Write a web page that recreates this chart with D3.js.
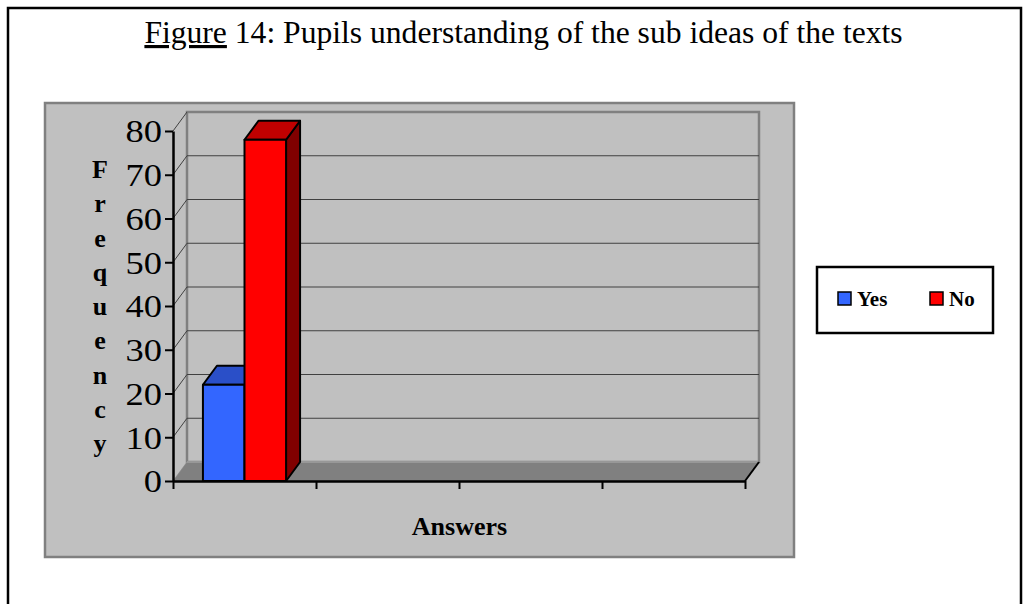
<!DOCTYPE html>
<html>
<head>
<meta charset="utf-8">
<script src="https://cdn.jsdelivr.net/npm/d3@7"></script>
<style>
  html, body { margin: 0; padding: 0; background: #fff; }
  svg { display: block; }
</style>
</head>
<body>
<svg id="chart" width="1029" height="604"></svg>
<script>
// ---- data ----
const titleLead = "Figure";
const titleRest = " 14: Pupils understanding of the sub ideas of the texts";
const categories = ["Answers"];          // single answered category (first slot)
const axisSlots = [0, 1, 2, 3];         // four category slots on the x axis
const seriesNames = ["Yes", "No"];
const yesValues = [22];
const noValues = [78];
const yTicks = [0, 10, 20, 30, 40, 50, 60, 70, 80];
const yTitle = "Frequency";
const xTitle = "Answers";
const seriesColors = {
  Yes: { front: "#3366FF", top: "#2A4FC8", side: "#1A3399" },
  No:  { front: "#FF0000", top: "#C00000", side: "#800000" }
};

const svg = d3.select("#chart");
const serif = "'Liberation Serif', 'Times New Roman', serif";

// outer frame
svg.append("rect").attr("x", 8).attr("y", 8).attr("width", 1013).attr("height", 640)
  .attr("fill", "none").attr("stroke", "#000").attr("stroke-width", 2.5);

// title
const title = svg.append("text").attr("x", 523.5).attr("y", 43)
  .attr("text-anchor", "middle").attr("font-family", serif).attr("font-size", 31.6);
title.append("tspan").attr("text-decoration", "underline").text(titleLead);
title.append("tspan").text(titleRest);

// chart area
svg.append("rect").attr("x", 45).attr("y", 103).attr("width", 749).attr("height", 454)
  .attr("fill", "#C0C0C0").attr("stroke", "#808080").attr("stroke-width", 2.5);

// scales
const x0 = 173, x1 = 745;
const dx = 14, dy = -19;
const y = d3.scaleLinear().domain([0, 80]).range([481, 131]);
const xSlot = d3.scaleBand().domain(axisSlots).range([x0, x1]).padding(0);
const xLin = d3.scaleLinear().domain([0, axisSlots.length]).range([x0, x1]);
const xSeries = d3.scaleBand().domain(seriesNames).range([0, xSlot.bandwidth()])
  .paddingInner(0).paddingOuter(0.72);

// back wall
svg.append("rect").attr("x", x0 + dx).attr("y", y(80) + dy)
  .attr("width", x1 - x0).attr("height", y(0) - y(80))
  .attr("fill", "#C0C0C0").attr("stroke", "#808080").attr("stroke-width", 2.5);

// gridlines on back wall and side diagonals
const grid = svg.append("g");
yTicks.filter(t => t > 0 && t < 80).forEach(t => {
  grid.append("line").attr("x1", x0 + dx).attr("x2", x1 + dx)
    .attr("y1", y(t) + dy).attr("y2", y(t) + dy)
    .attr("stroke", "#404040").attr("stroke-width", 1.2);
});
yTicks.forEach(t => {
  grid.append("line").attr("x1", x0).attr("y1", y(t))
    .attr("x2", x0 + dx).attr("y2", y(t) + dy)
    .attr("stroke", t === 0 ? "#a0a0a0" : "#404040").attr("stroke-width", 1);
});

// floor
const floorPts = [[x0, y(0)], [x1, y(0)], [x1 + dx, y(0) + dy], [x0 + dx, y(0) + dy]];
svg.append("polygon").attr("points", floorPts.map(p => p.join(",")).join(" "))
  .attr("fill", "#808080");
svg.append("line").attr("x1", x0 + dx).attr("x2", x1 + dx)
  .attr("y1", y(0) + dy).attr("y2", y(0) + dy)
  .attr("stroke", "#a0a0a0").attr("stroke-width", 1.5);

// bars
const seriesData = { Yes: yesValues, No: noValues };
const bars = svg.append("g");
categories.forEach((c, ci) => {
  seriesNames.forEach(s => {
    const v = seriesData[s][ci];
    const bx = xSlot(axisSlots[ci]) + xSeries(s);
    const bw = xSeries.bandwidth();
    const top = y(v), base = y(0);
    const col = seriesColors[s];
    const g = bars.append("g").attr("stroke", "#000").attr("stroke-width", 2)
      .attr("stroke-linejoin", "round");
    g.append("polygon").attr("points", [
      [bx + bw, top], [bx + bw + dx, top + dy], [bx + bw + dx, base + dy], [bx + bw, base]
    ].map(p => p.join(",")).join(" ")).attr("fill", col.side);
    g.append("polygon").attr("points", [
      [bx, top], [bx + dx, top + dy], [bx + bw + dx, top + dy], [bx + bw, top]
    ].map(p => p.join(",")).join(" ")).attr("fill", col.top);
    g.append("rect").attr("x", bx).attr("y", top).attr("width", bw)
      .attr("height", base - top).attr("fill", col.front);
  });
});

// y axis
const labelStretch = 1.14;
const yAxis = svg.append("g").attr("transform", `translate(${x0},0)`)
  .call(d3.axisLeft(y).tickValues(yTicks).tickSize(8).tickPadding(3).tickSizeOuter(0));
yAxis.select(".domain").attr("stroke", "#000").attr("stroke-width", 2.5);
yAxis.selectAll(".tick line").attr("stroke", "#000").attr("stroke-width", 2);
yAxis.selectAll(".tick text").attr("font-family", serif).attr("font-size", 32)
  .attr("fill", "#000").attr("dy", "0.34em")
  .attr("x", -11 / labelStretch)
  .attr("transform", `scale(${labelStretch},1)`);

// x axis
const xAxis = svg.append("g").attr("transform", `translate(0,${y(0)})`)
  .call(d3.axisBottom(xLin).tickValues(d3.range(axisSlots.length + 1))
    .tickFormat("").tickSize(8).tickSizeOuter(0));
xAxis.select(".domain").attr("stroke", "#000").attr("stroke-width", 2.5);
xAxis.selectAll(".tick line").attr("stroke", "#000").attr("stroke-width", 2);
svg.append("line").attr("x1", x1).attr("y1", y(0)).attr("x2", x1 + dx).attr("y2", y(0) + dy)
  .attr("stroke", "#000").attr("stroke-width", 2);

// y title (stacked letters)
const letters = yTitle.split("");
const yt = svg.append("g").attr("font-family", serif).attr("font-weight", "bold")
  .attr("font-size", 26).attr("text-anchor", "middle");
letters.forEach((ch, i) => {
  yt.append("text").attr("x", 100).attr("y", 178 + i * 34.25).text(ch);
});

// x title
svg.append("text").attr("x", 459.5).attr("y", 535).attr("text-anchor", "middle")
  .attr("font-family", serif).attr("font-weight", "bold").attr("font-size", 26)
  .text(xTitle);

// legend
svg.append("rect").attr("x", 817).attr("y", 267).attr("width", 176).attr("height", 66)
  .attr("fill", "#fff").attr("stroke", "#000").attr("stroke-width", 2.5);
const legX = { Yes: 838, No: 930 };
seriesNames.forEach(s => {
  svg.append("rect").attr("x", legX[s]).attr("y", 292).attr("width", 13).attr("height", 13)
    .attr("fill", seriesColors[s].front).attr("stroke", "#000").attr("stroke-width", 1.5);
  svg.append("text").attr("x", legX[s] + 19).attr("y", 306)
    .attr("font-family", serif).attr("font-weight", "bold").attr("font-size", 21)
    .text(s);
});
</script>
</body>
</html>
